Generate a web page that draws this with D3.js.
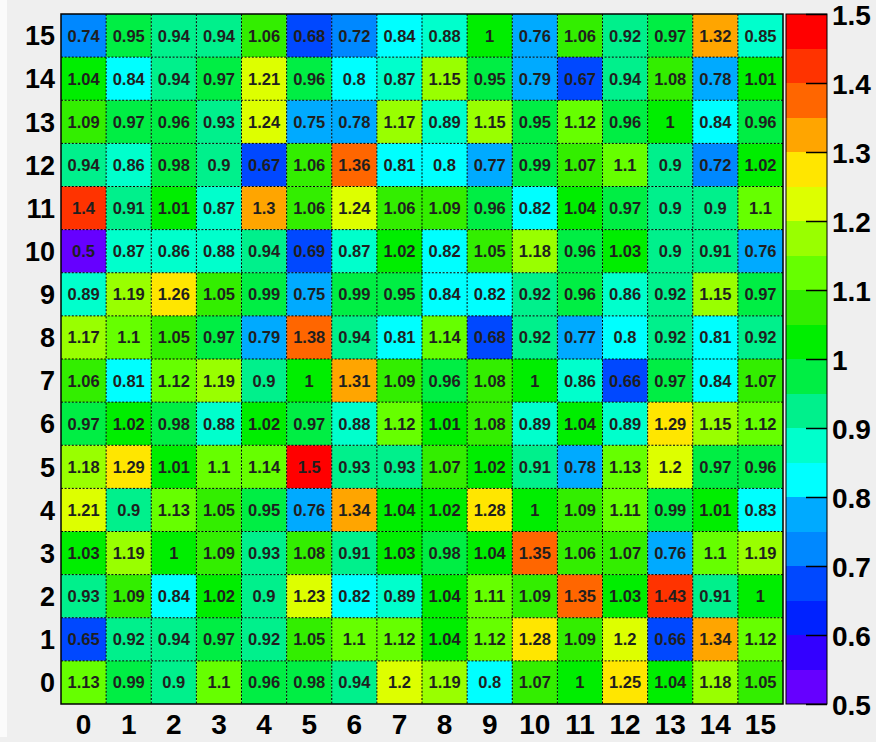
<!DOCTYPE html>
<html>
<head>
<meta charset="utf-8">
<script src="https://cdn.jsdelivr.net/npm/d3@7"></script>
<style>
  html, body { margin: 0; padding: 0; background: #efefef; }
  svg { display: block; }
  text { font-family: "Liberation Sans", Arial, Helvetica, sans-serif; }
</style>
</head>
<body>
<svg id="chart" width="876" height="742"></svg>
<script>
// ---- data ----
const xCategories = d3.range(0, 16);   // 0..15
const yCategories = d3.range(0, 16);   // 0..15
// rows listed from y = 15 (top) down to y = 0 (bottom); columns x = 0..15
const row15 = [0.74, 0.95, 0.94, 0.94, 1.06, 0.68, 0.72, 0.84, 0.88, 1, 0.76, 1.06, 0.92, 0.97, 1.32, 0.85];
const row14 = [1.04, 0.84, 0.94, 0.97, 1.21, 0.96, 0.8, 0.87, 1.15, 0.95, 0.79, 0.67, 0.94, 1.08, 0.78, 1.01];
const row13 = [1.09, 0.97, 0.96, 0.93, 1.24, 0.75, 0.78, 1.17, 0.89, 1.15, 0.95, 1.12, 0.96, 1, 0.84, 0.96];
const row12 = [0.94, 0.86, 0.98, 0.9, 0.67, 1.06, 1.36, 0.81, 0.8, 0.77, 0.99, 1.07, 1.1, 0.9, 0.72, 1.02];
const row11 = [1.4, 0.91, 1.01, 0.87, 1.3, 1.06, 1.24, 1.06, 1.09, 0.96, 0.82, 1.04, 0.97, 0.9, 0.9, 1.1];
const row10 = [0.5, 0.87, 0.86, 0.88, 0.94, 0.69, 0.87, 1.02, 0.82, 1.05, 1.18, 0.96, 1.03, 0.9, 0.91, 0.76];
const row9  = [0.89, 1.19, 1.26, 1.05, 0.99, 0.75, 0.99, 0.95, 0.84, 0.82, 0.92, 0.96, 0.86, 0.92, 1.15, 0.97];
const row8  = [1.17, 1.1, 1.05, 0.97, 0.79, 1.38, 0.94, 0.81, 1.14, 0.68, 0.92, 0.77, 0.8, 0.92, 0.81, 0.92];
const row7  = [1.06, 0.81, 1.12, 1.19, 0.9, 1, 1.31, 1.09, 0.96, 1.08, 1, 0.86, 0.66, 0.97, 0.84, 1.07];
const row6  = [0.97, 1.02, 0.98, 0.88, 1.02, 0.97, 0.88, 1.12, 1.01, 1.08, 0.89, 1.04, 0.89, 1.29, 1.15, 1.12];
const row5  = [1.18, 1.29, 1.01, 1.1, 1.14, 1.5, 0.93, 0.93, 1.07, 1.02, 0.91, 0.78, 1.13, 1.2, 0.97, 0.96];
const row4  = [1.21, 0.9, 1.13, 1.05, 0.95, 0.76, 1.34, 1.04, 1.02, 1.28, 1, 1.09, 1.11, 0.99, 1.01, 0.83];
const row3  = [1.03, 1.19, 1, 1.09, 0.93, 1.08, 0.91, 1.03, 0.98, 1.04, 1.35, 1.06, 1.07, 0.76, 1.1, 1.19];
const row2  = [0.93, 1.09, 0.84, 1.02, 0.9, 1.23, 0.82, 0.89, 1.04, 1.11, 1.09, 1.35, 1.03, 1.43, 0.91, 1];
const row1  = [0.65, 0.92, 0.94, 0.97, 0.92, 1.05, 1.1, 1.12, 1.04, 1.12, 1.28, 1.09, 1.2, 0.66, 1.34, 1.12];
const row0  = [1.13, 0.99, 0.9, 1.1, 0.96, 0.98, 0.94, 1.2, 1.19, 0.8, 1.07, 1, 1.25, 1.04, 1.18, 1.05];
const rowsTopDown = [row15, row14, row13, row12, row11, row10, row9, row8, row7, row6, row5, row4, row3, row2, row1, row0];

const colorDomain = [0.5, 1.5];
const paletteColors = ["#6600ff", "#3300ff", "#0022ff", "#0048ff", "#0088ff", "#00aaff", "#00ffff", "#00ffcc",
                       "#00f08c", "#00ee44", "#00ee00", "#33ee00", "#66ff00", "#99ff00", "#ddff00", "#ffe600",
                       "#ffa500", "#ff6600", "#ff3300", "#ff0000"];
const colorTickValues = [0.5, 0.6, 0.7, 0.8, 0.9, 1.0, 1.1, 1.2, 1.3, 1.4, 1.5];
const colorTickLabels = ["0.5", "0.6", "0.7", "0.8", "0.9", "1", "1.1", "1.2", "1.3", "1.4", "1.5"];

// ---- build cells ----
const cells = [];
rowsTopDown.forEach((row, i) => {
  const yv = 15 - i;
  row.forEach((v, xv) => cells.push({ x: xv, y: yv, v: v }));
});

// ---- layout ----
const W = 876, H = 742;
const frame = { left: 61, right: 783, top: 14, bottom: 704 };
const pal = { left: 786, right: 827 };

const svg = d3.select("#chart");
svg.append("rect").attr("x", 0).attr("y", 0).attr("width", W).attr("height", H).attr("fill", "#efefef");
svg.append("rect").attr("x", 0).attr("y", 0).attr("width", 7).attr("height", 737).attr("fill", "#fbfbfb");

const x = d3.scaleBand().domain(xCategories).range([frame.left, frame.right]).padding(0);
const y = d3.scaleBand().domain(yCategories.slice().reverse()).range([frame.top, frame.bottom]).padding(0);
const color = d3.scaleQuantize().domain(colorDomain).range(paletteColors);

// cells
svg.append("g").selectAll("rect").data(cells).join("rect")
  .attr("x", d => x(d.x)).attr("y", d => y(d.y))
  .attr("width", x.bandwidth()).attr("height", y.bandwidth())
  .attr("fill", d => color(d.v));

// dotted grid at cell boundaries
const grid = svg.append("g").attr("stroke", "#000").attr("stroke-width", 1).attr("stroke-dasharray", "2,1.6");
xCategories.slice(1).forEach(c => {
  grid.append("line").attr("x1", x(c)).attr("x2", x(c)).attr("y1", frame.top).attr("y2", frame.bottom);
});
yCategories.slice(1).forEach(c => {
  grid.append("line").attr("y1", y(c) + y.bandwidth()).attr("y2", y(c) + y.bandwidth())
    .attr("x1", frame.left).attr("x2", frame.right);
});

// cell texts
svg.append("g").selectAll("text").data(cells).join("text")
  .attr("x", d => x(d.x) + x.bandwidth() / 2)
  .attr("y", d => y(d.y) + y.bandwidth() / 2 + 6)
  .attr("text-anchor", "middle")
  .attr("font-size", 16.5)
  .attr("font-weight", "bold")
  .attr("fill", "#1f1f1f")
  .text(d => String(d.v));

// frame
svg.append("rect").attr("x", frame.left).attr("y", frame.top)
  .attr("width", frame.right - frame.left).attr("height", frame.bottom - frame.top)
  .attr("fill", "none").attr("stroke", "#000").attr("stroke-width", 1.5);

// axes
const xAxis = svg.append("g").attr("transform", `translate(0,${frame.bottom})`)
  .call(d3.axisBottom(x).tickSize(0).tickPadding(10));
xAxis.select(".domain").remove();
xAxis.selectAll("text").attr("font-size", 28).attr("font-weight", "bold").attr("fill", "#000")
  .attr("font-family", "'Liberation Sans', Arial, sans-serif").attr("dy", "0.71em");

const yAxis = svg.append("g").attr("transform", `translate(${frame.left},0)`)
  .call(d3.axisLeft(y).tickSize(0).tickPadding(6));
yAxis.select(".domain").remove();
yAxis.selectAll("text").attr("font-size", 27).attr("font-weight", "bold").attr("fill", "#000")
  .attr("font-family", "'Liberation Sans', Arial, sans-serif").attr("dy", "0.36em");

// palette
const cy = d3.scaleLinear().domain(colorDomain).range([frame.bottom, frame.top]);
const bins = paletteColors.map((c, i) => {
  const ext = color.invertExtent(c);
  return { c: c, lo: ext[0], hi: ext[1] };
});
svg.append("g").selectAll("rect").data(bins).join("rect")
  .attr("x", pal.left).attr("width", pal.right - pal.left)
  .attr("y", d => cy(d.hi)).attr("height", d => cy(d.lo) - cy(d.hi))
  .attr("fill", d => d.c).attr("shape-rendering", "crispEdges");
svg.append("rect").attr("x", pal.left).attr("y", frame.top)
  .attr("width", pal.right - pal.left).attr("height", frame.bottom - frame.top)
  .attr("fill", "none").attr("stroke", "#000").attr("stroke-width", 1);

const cAxis = svg.append("g").attr("transform", `translate(${pal.right},0)`)
  .call(d3.axisRight(cy).tickValues(colorTickValues)
    .tickFormat((d, i) => colorTickLabels[i]).tickSizeInner(-21).tickSizeOuter(0).tickPadding(5));
cAxis.select(".domain").remove();
cAxis.selectAll("line").attr("stroke", "#000").attr("stroke-width", 1.5);
cAxis.selectAll("text").attr("font-size", 28).attr("font-weight", "bold").attr("fill", "#000")
  .attr("font-family", "'Liberation Sans', Arial, sans-serif").attr("dy", "0.36em");
</script>
</body>
</html>
